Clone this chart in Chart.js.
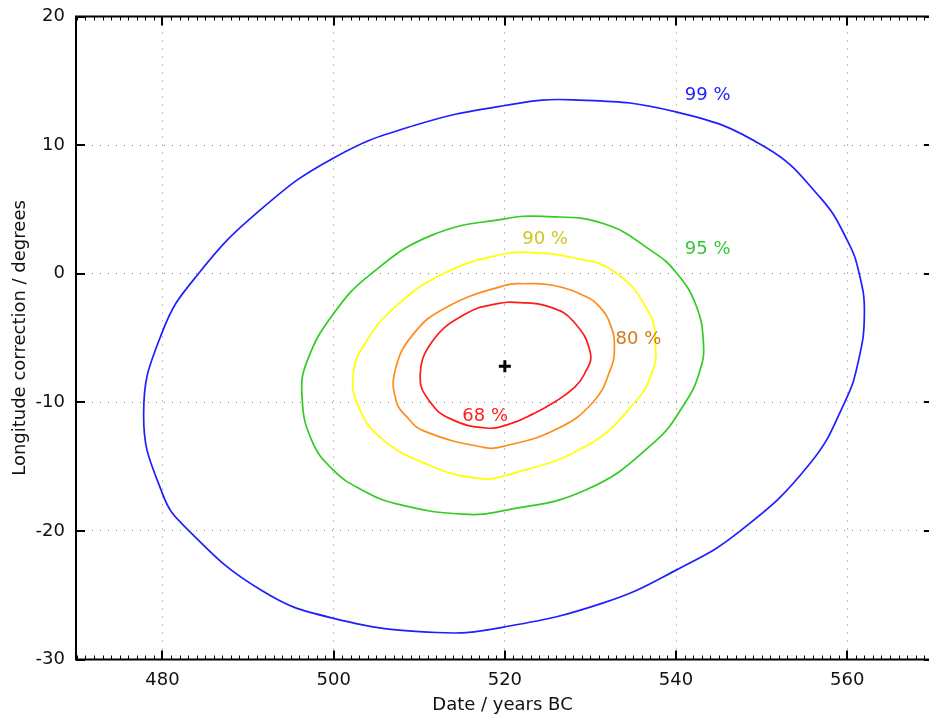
<!DOCTYPE html>
<html>
<head>
<meta charset="utf-8">
<script src="https://cdn.jsdelivr.net/npm/chart.js@4"></script>
<style>
html,body{margin:0;padding:0;background:#fff;overflow:hidden;}
canvas{display:block;}
</style>
</head>
<body>
<canvas id="c" width="929" height="722"></canvas>
<script>
// ---- data (x = date / years BC, y = longitude correction / degrees)
const xRange = [469.9, 569.55];
const yRange = [-30, 20];
const xTickValues = [480, 500, 520, 540, 560];
const yTickValues = [-30, -20, -10, 0, 10, 20];

// closed confidence contours (the loop closes back to the first point)
const contour99 = [[528,13.52],[540.1,12.56],[550.4,9.85],[556.8,5.95],[560,2.6],[561.4,0],[562,-3.1],[561.3,-6.8],[559.7,-10],[555.6,-14.8],[547.5,-20],[540,-23.05],[531.5,-25.6],[520,-27.46],[512,-27.9],[500,-26.8],[491.5,-24.6],[482.8,-19.8],[480,-17.1],[477.8,-11],[480,-4.5],[484.2,0],[491.5,5.0],[500,9.0],[509.3,11.5],[520,13.08]];
const contour95 = [[524.5,4.45],[531.5,3.9],[537.3,1.7],[540,0.1],[542.3,-2.4],[543.2,-5.4],[542.8,-7.5],[541.1,-10],[537.3,-13.2],[529.5,-16.8],[520,-18.4],[515.1,-18.7],[507.35,-17.9],[503.4,-16.85],[500,-15.3],[497.4,-12.9],[496.3,-9.5],[496.9,-6.8],[500,-3.1],[504.4,0],[511.5,3.0],[520,4.27]];
const contour90 = [[523.7,1.62],[527.6,1.3],[532.8,0.15],[536.9,-3.1],[537.6,-5.7],[537.3,-7.5],[535.2,-10],[529.5,-13.4],[520,-15.7],[516.7,-15.9],[511.2,-14.9],[505.4,-12.7],[502.7,-10],[502.3,-7.8],[503.4,-5.7],[507.0,-2.7],[512.8,0],[520,1.55]];
const contour80 = [[522.3,-0.78],[525.6,-0.9],[529.5,-1.8],[531.1,-2.6],[532.3,-3.9],[532.8,-5.7],[532.3,-7.5],[530.3,-10],[526,-12.1],[520,-13.4],[517.5,-13.5],[510.45,-12.2],[508.5,-11.1],[507.35,-10],[507.15,-7.6],[509.3,-4.7],[513.2,-2.6],[520,-0.91]];
const contour68 = [[521.8,-2.25],[525.3,-2.6],[528,-3.7],[530,-6.2],[529.3,-7.8],[528.2,-8.8],[526,-9.9],[523.3,-10.9],[520.5,-11.7],[517.8,-12.0],[513.6,-11.27],[511.3,-10],[510.1,-8.0],[511.6,-5.2],[515.5,-3.1],[519,-2.35]];
const bestFit = [[520, -7.2]];

const contourNames = ['99 %', '95 %', '90 %', '80 %', '68 %'];
const labelAnchors = [[543.7,13.85],[543.7,1.9],[524.7,2.7],[535.6,-5.1],[517.7,-11.1]];

// ---- styles
const lineColors  = ['#1f1fff', '#33cc22', '#ffff00', '#ff8c1a', '#ff1a1a'];
const labelColors = ['#2222ff', '#33c833', '#c8c81e', '#cc7a1a', '#ff2020'];
const FONT = '"DejaVu Sans", sans-serif';

const toPts = arr => arr.map(p => ({x: p[0], y: p[1]}));
const contours = [contour99, contour95, contour90, contour80, contour68];

const datasets = contours.map((c, i) => ({
  label: contourNames[i],
  data: toPts(c),
  closed: true,
  showLine: true,
  borderColor: lineColors[i],
  borderWidth: 1.7,
  pointRadius: 0,
  tension: 0.45,
  fill: false
}));
datasets.push({
  label: 'best',
  data: toPts(bestFit),
  showLine: false,
  pointStyle: 'cross',
  pointRadius: 6,
  borderColor: '#000',
  borderWidth: 3
});

// close each contour into a smooth loop using the line element's own loop handling
const loopPlugin = {
  id: 'closeLoops',
  beforeDatasetsDraw(chart) {
    chart.data.datasets.forEach((ds, i) => {
      if (!ds.closed) return;
      const line = chart.getDatasetMeta(i).dataset;
      if (!line) return;
      line._loop = true;
      line._fullLoop = true;
      line._pointsUpdated = false;
      delete line._segments;
      line._path = undefined;
      if (line.updateControlPoints) line.updateControlPoints(chart.chartArea, 'x');
    });
  }
};

const framePlugin = {
  id: 'frame',
  afterDatasetsDraw(chart) {
    const {ctx, scales: {x, y}} = chart;
    ctx.save();
    ctx.font = '18px ' + FONT;
    ctx.textAlign = 'center';
    ctx.textBaseline = 'middle';
    labelAnchors.forEach((p, i) => {
      ctx.fillStyle = labelColors[i];
      ctx.fillText(contourNames[i], x.getPixelForValue(p[0]), y.getPixelForValue(p[1]));
    });
    ctx.restore();
  },
  afterDraw(chart) {
    const {ctx, chartArea: a, scales: {x, y}} = chart;
    const seg = (x1, y1, x2, y2) => { ctx.beginPath(); ctx.moveTo(x1, y1); ctx.lineTo(x2, y2); ctx.stroke(); };
    const right = x.getPixelForValue(570);
    ctx.save();
    ctx.strokeStyle = '#000';
    ctx.lineWidth = 1;
    for (let v = 470; v <= 570; v++) {
      const px = Math.round(x.getPixelForValue(v)) + 0.5;
      seg(px, a.bottom, px, a.bottom - 4);
      seg(px, a.top, px, a.top + 4);
    }
    ctx.lineWidth = 2;
    xTickValues.forEach(v => {
      const px = Math.round(x.getPixelForValue(v));
      seg(px, a.bottom, px, a.bottom - 9);
      seg(px, a.top, px, a.top + 9);
    });
    yTickValues.forEach(v => {
      const py = Math.round(y.getPixelForValue(v));
      seg(a.left, py, a.left + 9, py);
      seg(right, py, right - 9, py);
    });
    seg(a.left - 1, a.top, right + 1, a.top);
    seg(a.left - 1, a.bottom, right + 1, a.bottom);
    seg(a.left, a.top, a.left, a.bottom);
    seg(right, a.top, right, a.bottom);
    ctx.restore();
  }
};

new Chart(document.getElementById('c'), {
  type: 'scatter',
  data: { datasets },
  plugins: [loopPlugin, framePlugin],
  options: {
    responsive: false,
    animation: false,
    layout: { autoPadding: false, padding: { top: 16.5, right: 0, bottom: 0, left: 0 } },
    plugins: { legend: { display: false }, tooltip: { enabled: false } },
    scales: {
      x: {
        type: 'linear',
        min: xRange[0], max: xRange[1],
        afterBuildTicks: s => { s.ticks = xTickValues.map(v => ({value: v})); },
        afterFit: s => { s.height = 62.5; s.paddingLeft = 0; s.paddingRight = 0; },
        grid: { color: '#808080', lineWidth: 1, drawTicks: false },
        border: { display: false, dash: [1, 7] },
        ticks: { font: { family: FONT, size: 18 }, color: '#111', padding: 10, maxRotation: 0 },
        title: { display: true, text: 'Date / years BC', font: { family: FONT, size: 18 }, color: '#111', padding: { top: 0, bottom: 6 } }
      },
      y: {
        type: 'linear',
        min: yRange[0], max: yRange[1],
        afterBuildTicks: s => { s.ticks = yTickValues.map(v => ({value: v})); },
        afterFit: s => { s.width = 76; s.paddingTop = 0; s.paddingBottom = 0; },
        grid: { color: '#808080', lineWidth: 1, drawTicks: false },
        border: { display: false, dash: [1, 7] },
        ticks: { font: { family: FONT, size: 18 }, color: '#111', padding: 11 },
        title: { display: true, text: 'Longitude correction / degrees', font: { family: FONT, size: 18 }, color: '#111', padding: { top: 10, bottom: 0 } }
      }
    }
  }
});
</script>
</body>
</html>
